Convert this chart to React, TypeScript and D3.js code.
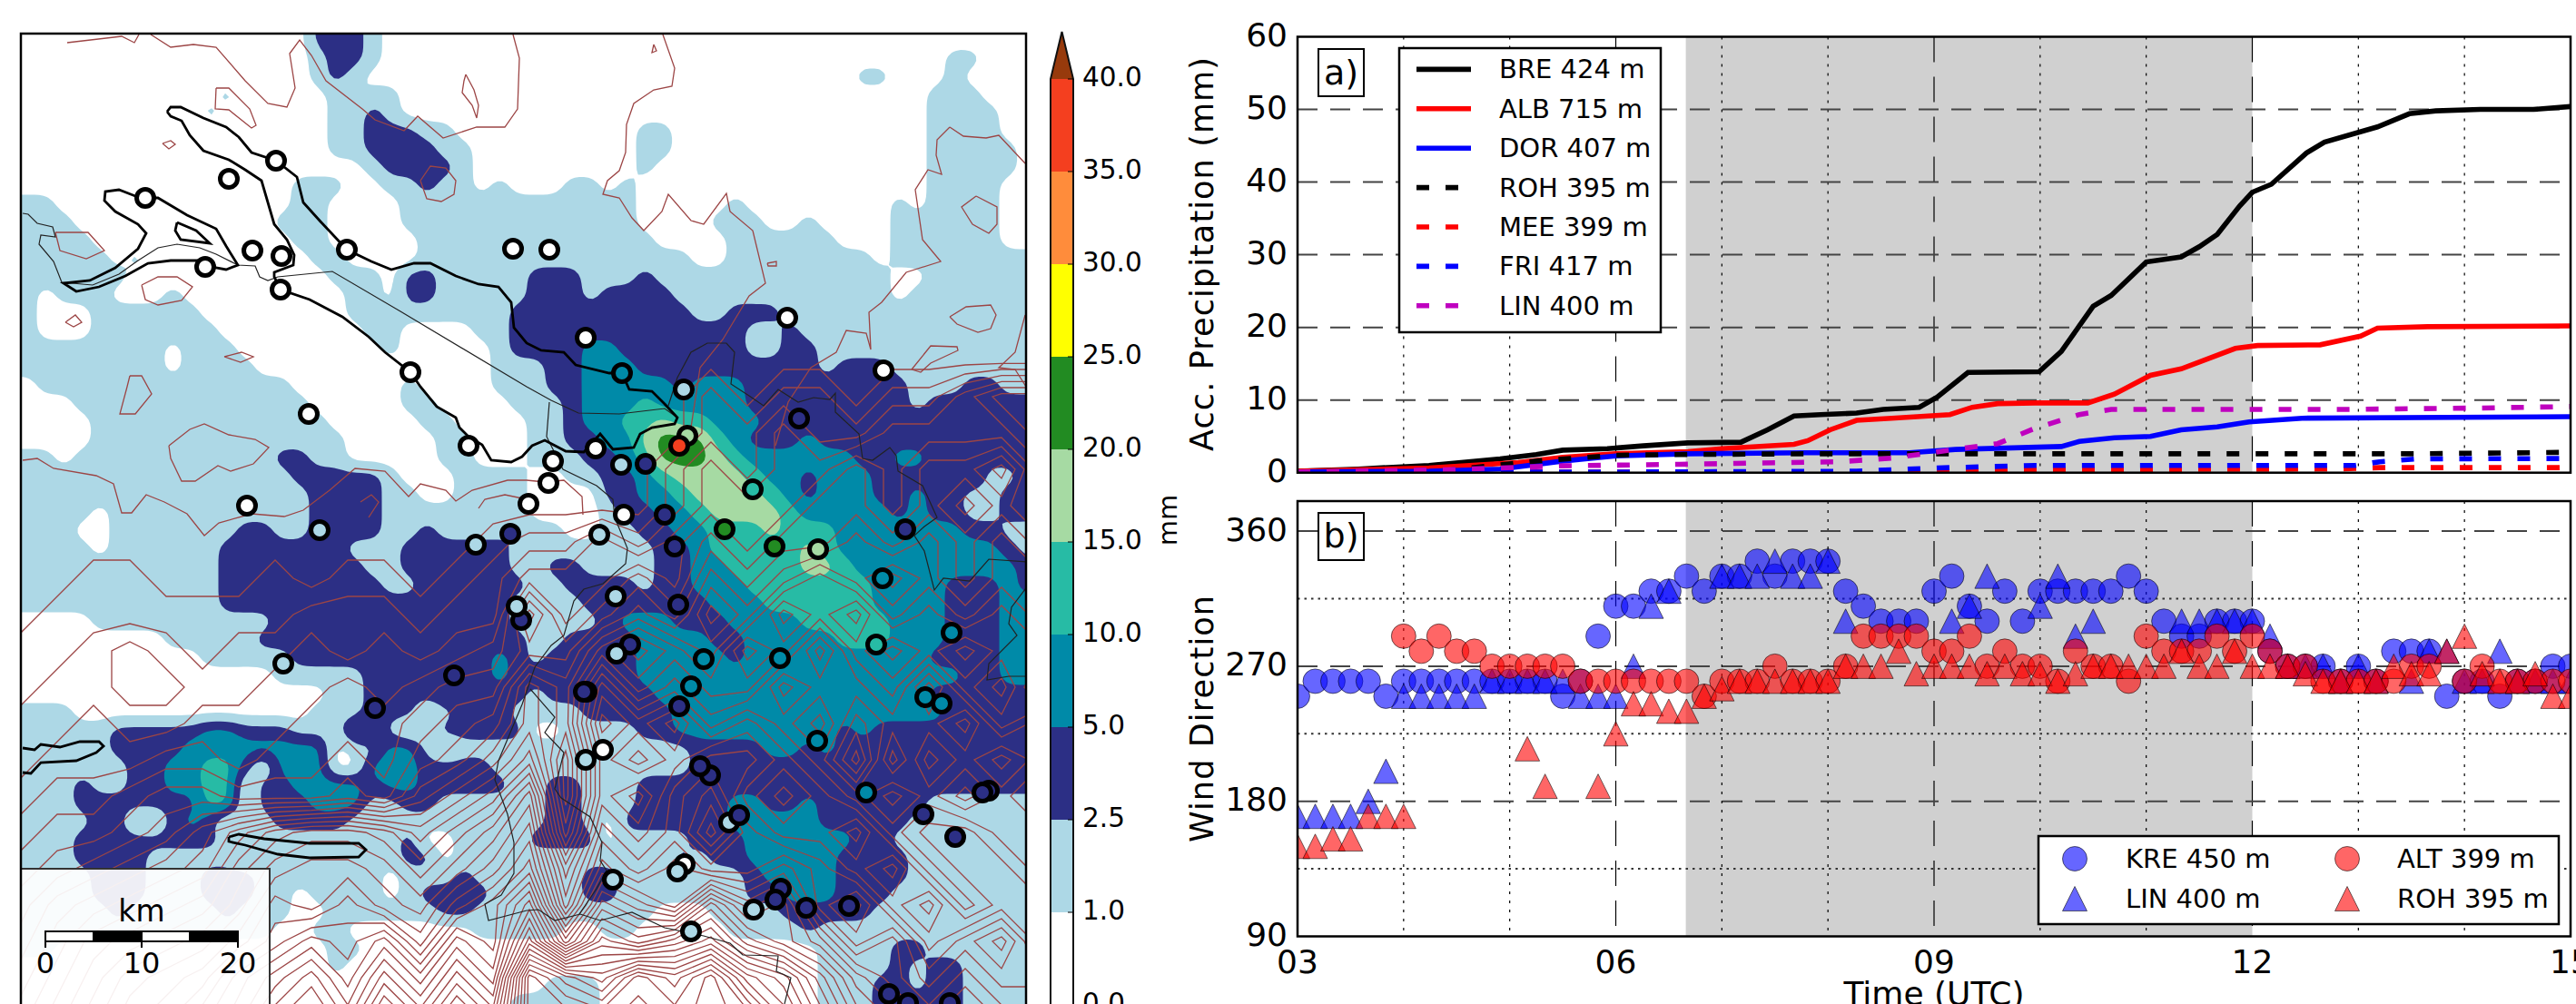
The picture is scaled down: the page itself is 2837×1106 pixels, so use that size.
import React from "react";
import * as d3 from "d3";

// ---------- colour classes (mm) ----------
const rainLevels = ["0.0", "1.0", "2.5", "5.0", "10.0", "15.0", "20.0", "25.0", "30.0", "35.0", "40.0"];
const rainColors = ["#ffffff", "#add8e6", "#2c2f85", "#008aa8", "#27bba5", "#a6daa3", "#228b22", "#ffff00", "#ff8c3b", "#f43f1f", "#973a0c"];

const rainWest = [
  "0000000000000000222100000000","0000000000000000122100000000","0000000000000000121000000000","0000000000010000010110000000",
  "0000000000100000011210000000","0000000000000000011222110000","0000000000000000011222211000","0000000000000000000122221000",
  "0000000000000001110011211010","1100000000000001100001111111","1110000000000011100001111111","1111000000000001100000111111",
  "1111101000000000110000111111","1111110000000000011102211111","1011100010000000001102211111","1000111111000000001111111112",
  "1000101111100000000110000112","1111111101110000000010000012","1111111101111000000000000011","0111111111111110000001000011",
  "0001112111111111000001100001","0000111111111111100000110000","0000111111111111110000011000","1101111111111122110000011000",
  "1111111111111112222210001111","1111111111111111222211001111","1111011111111111222211111111",
  "1110011111112211222211211112","1111011011122222221112222221","1111111111122222222112222221","1111111111122222222211222222",
  "1111111101122222222222222221","0000111111111122222222222221","0000000011121222222222222222","0000000000111112222222222232",
  "0000000000000011111232222232","0000000000000000011222232222","1110000000000000111222012221",
  "1111122222332221113310122222","1111122223333333301133101111","1111112233442033300333222211","1112112233440223333233222221",
  "1112222222440222333112211111","1111220023201122221011111111","1112222222211111111112001111","1112222111110111111112201111",
  "1111222111222111111101112111","1111222111222110111101222211","1111121111121110011111122111","1111111111111100110000000111",
  "1100000000000000011000000000","0000000000000000010000000000","0000000000000000000000000000","0000000000000000000000000001",
];
const rainEast = [
  "0000000000000000000000000000","0000000000000000000000011000","0000000000000000001100010000","0000000000000000000000111000",
  "0000000000000000000000111100","0000001100000000000000111100","0000001100000000000000111110","0000001000000000000000111110",
  "0011010000000000000000111100","1111110000010000000010111100","1111110000111001000011111100","1111111000011111100011111100",
  "1111111110011111111011111111","2221112111111111111100111111","2221222211111111111101111111","2222222221122211111111111111",
  "2222222222221121111111111111","2223322222221122111111111111","1223332222222222122211111111","1223333323332222222221112211",
  "1123334333332222222221222222","1123344544333222222222222222","1122335666432223222222222222","1112234666543333332233222222",
  "0011223455554332333222223112","0000223345555432333223221122","0000122334555543333323221122",
  "1100112233444544433333332211","1111111223444445433333333321","1221111223344445543333333332","1122221223334444444333322232",
  "1112222222333444444333322233","1111233322233334444433322233","1122223333223333344433322233","1222223333323333333333222233",
  "2222223333333333333333332233","1222222333333333333333222222","1112222233333333333333322222","0011112233333333323222222222",
  "1111111112222332322222222222","1111111112222222222222222222","1221112222222222222222222222","1221112222233223222222111111",
  "1221022222233333222221111111","2222011112223333332211111111","1111111121223333322221111111","1112211111112333322221111111",
  "1112211111112233322211111111","1111111000111122222111111111","1100110000011112111111111111","0000000000000000111122111111",
  "0000000000000000111121221111","0111000000000000111221221111","1111000000000000111222221111",
];

// Contour count (base-36 digit) of the terrain on a coarser grid, starting at grid row 10.
const terrainWest = [
  "00000000000000","00000000000000","00000000000000","00000000000000","00000000000001",
  "00110001011012","01111111222122","11232122323234","12233223343455","22322333444567",
  "23334434454679","344566555658ac","455679bdeedbdf","56789adfggfdfh","689abcehgigfik",
  "79bcdegikjlhmk","8acefgjlnkolpm","9bdfgiknpmrosp",
];
const terrainEast = [
  "000002022022466","000002242244446","000024244646684","000024446646864","224246466868686",
  "44464868a8a8688","84686a8cac8a8a8","66aca8caeacacaa","a8eacaaeccaeac8","a8gegcecaecceac",
  "c6egeggecgaecec","g6ecgiegececaca","i8gegkgeegceecc","kcigiggigegceec","oemkiokmgiegcee",
  "skqoqsomkgiegie","zwuywzusokigigg","zzyzyzyuqmkikii",
];
const terrainFirstRow = 10;

// North terrain contours, in map units.
const terrainLines = [
  [[51,10],[111,3],[125,10],[130,1]],
  [[143,1],[165,15],[190,12],[215,15],[247,52],[272,77],[293,81],[302,60],[296,22],[307,7],[320,24],[336,52],[376,83],[390,95],[422,107],[437,91],[465,115],[502,103],[533,103],[547,83],[549,27],[542,1]],
  [[215,60],[229,60],[252,83],[259,101],[254,104],[229,84],[214,83],[215,60]],
  [[156,121],[165,118],[170,122],[163,127],[156,121]],
  [[490,45],[499,62],[504,79],[502,93],[497,79],[486,65],[488,52],[490,45]],
  [[440,162],[451,146],[468,148],[479,162],[477,177],[463,185],[447,182],[440,162]],
  [[38,219],[74,219],[92,239],[72,248],[43,239],[38,219]],
  [[133,277],[151,268],[172,268],[189,279],[177,294],[151,299],[137,293],[133,277]],
  [[49,318],[60,310],[67,318],[58,323],[49,318]],
  [[224,356],[243,351],[256,356],[242,362],[224,356]],
  [[120,377],[133,377],[144,397],[126,419],[109,419],[117,389],[120,377]],
  [[163,454],[186,436],[202,430],[229,442],[258,447],[273,456],[256,474],[231,482],[217,476],[192,493],[177,493],[165,468],[163,454]],
  [[2,470],[18,468],[36,479],[83,487],[102,496],[111,528],[122,528],[138,508],[158,516],[183,529],[202,553],[218,539],[254,529],[290,532],[311,525],[340,503],[368,479],[401,482],[427,510],[440,496],[468,503],[479,515],[497,503],[536,492],[557,492],[577,494],[598,492],[618,510],[619,530]],
  [[374,516],[386,508],[394,516],[383,533]],
  [[504,523],[511,513],[533,508],[557,513]],
  [[707,1],[720,38],[717,58],[697,62],[675,77],[667,100],[666,131],[659,151],[646,162],[641,177],[659,181],[673,203],[686,217],[706,196],[713,177],[738,206],[752,210],[777,176],[781,196],[806,217],[820,275],[802,289],[773,337],[748,368],[738,434]],
  [[1023,103],[1009,117],[1008,134],[1014,155],[999,150],[985,172],[993,227],[1013,251],[975,263],[948,296],[934,307],[936,348],[931,330],[909,327],[898,351],[870,368],[845,406],[831,454]],
  [[1023,103],[1038,113],[1063,115],[1077,112],[1106,143]],
  [[1052,179],[1075,191],[1075,210],[1066,220],[1048,210],[1036,191],[1052,179]],
  [[1023,312],[1041,301],[1068,299],[1074,310],[1068,325],[1054,329],[1031,320],[1023,312]],
  [[981,370],[1002,344],[1031,345],[1032,349],[1002,363],[991,373],[981,370]],
  [[1106,310],[1095,351],[1077,368],[1095,370],[1107,389]],
  [[697,12],[700,19],[695,21],[697,12]],
  [[822,253],[832,251],[832,256],[823,256],[822,253]],
];

// Lakes (heavy black outline).
const lakeLines = [
  [[161,86],[165,81],[176,81],[201,93],[226,103],[240,114],[254,131],[281,140],[304,158],[311,186],[329,206],[359,238],[386,251],[408,260],[433,253],[451,253],[479,267],[504,276],[526,279],[540,296],[543,324],[557,341],[573,349],[598,351],[611,365],[648,374],[662,374],[670,392],[695,394],[709,408],[723,423],[720,430],[695,434],[682,441],[675,456],[652,458],[638,441],[620,461],[600,460],[577,448],[563,454],[552,466],[540,472],[518,470],[508,453],[493,444],[483,434],[479,423],[458,411],[440,389],[429,373],[401,351],[383,334],[354,312],[318,293],[286,282],[279,268],[279,263],[300,255],[301,244],[293,227],[279,210],[272,186],[265,162],[247,150],[229,139],[201,129],[186,112],[177,96],[165,91],[161,86]],
  [[137,181],[151,181],[183,200],[215,215],[226,234],[239,255],[226,260],[215,258],[203,250],[165,250],[140,253],[115,267],[86,279],[61,284],[47,275],[76,272],[104,258],[129,237],[138,220],[129,210],[104,196],[92,184],[93,174],[108,172],[126,179],[137,181]],
  [[172,208],[193,217],[208,231],[176,227],[170,217],[172,208]],
  [[2,787],[15,789],[22,783],[43,786],[65,780],[86,780],[91,785],[83,792],[61,801],[22,803],[11,815],[2,814]],
  [[229,885],[240,882],[268,887],[318,892],[372,892],[380,899],[372,907],[318,908],[283,904],[247,894],[229,890],[229,885]],
];

// Rivers and borders (thin line).
const borderLines = [
  [[2,198],[8,199],[18,209],[35,213],[38,224],[22,222],[20,232],[36,251],[45,274],[79,277],[108,265],[129,250],[151,236],[172,232],[197,236],[215,243],[239,255],[258,256],[263,268],[272,272],[283,268],[343,262],[418,306],[557,389],[584,404],[614,418],[659,419],[709,413],[723,423]],
  [[713,410],[723,379],[738,351],[756,341],[777,341],[786,351],[782,386],[802,399],[818,410],[834,392],[856,406],[873,401],[891,403],[897,396],[897,417],[923,441],[927,468],[938,470],[957,456],[964,465],[966,482],[993,498],[1009,533],[995,543],[984,553],[995,570],[1006,613],[1016,600],[1045,603],[1066,579],[1109,582]],
  [[1109,608],[1091,632],[1088,650],[1097,663],[1066,694],[1064,712],[1088,708],[1109,708]],
  [[582,406],[579,444],[597,480],[634,498],[652,513],[654,533],[668,567],[666,584],[641,606],[620,612],[609,625],[598,663],[584,674],[566,698],[552,739],[526,801],[522,822],[536,860],[543,891],[543,925],[529,949],[511,959],[515,977],[557,966],[570,965],[588,977],[616,970],[638,977],[673,968],[709,985],[752,994],[781,1002],[795,1015],[834,1016],[832,1033],[848,1040],[841,1069]],
  [[561,722],[588,753],[577,770],[598,792],[588,832],[595,842],[627,863],[640,891],[638,911],[645,922],[634,942],[615,970]],
];

// Stations: position in map units and the colour class of their total.
const stations = [
  [281,140,0],[229,160,0],[137,181,0],[255,239,0],[287,245,0],[203,257,0],[286,282,0],[359,238,0],[542,237,0],[429,373,0],[317,419,0],[493,454,0],[249,520,0],
  [582,238,0],[622,335,0],[844,313,0],[950,371,0],[662,374,3],[730,392,1],[857,424,2],[734,443,5],[725,454,9],[633,457,0],[586,471,0],[581,495,0],[559,518,0],[661,475,1],[688,474,2],[806,502,4],[664,530,0],[709,530,2],
  [637,552,1],[775,546,6],[830,565,6],[878,568,5],[720,565,2],[974,546,2],[949,600,3],[655,620,1],[724,629,2],[1025,660,3],[942,673,4],[671,673,2],[656,683,1],[752,689,3],[836,688,3],[738,719,3],[725,741,2],[623,725,2],[620,725,2],[996,731,3],[1014,738,3],[877,779,3],[641,789,0],[622,800,1],[759,817,2],[748,807,2],[931,836,3],[1066,834,2],[1059,836,2],[994,860,2],[780,869,1],[791,861,2],[1029,885,2],[731,915,0],[723,923,1],[652,932,1],[837,942,2],[831,954,2],[865,963,2],[912,961,2],[807,965,1],[738,989,1],[956,1058,2],[977,1068,2],[1023,1068,2],
  [329,547,1],[501,563,1],[539,551,2],[551,646,2],[546,631,1],[289,694,1],[477,707,2],[390,743,2],
];

// ---------- panel a ----------
const precipSeries = [
  { name: "BRE 424 m", color: "#000000", dashed: false, t: [3,3.57,4.24,4.91,5.25,5.5,5.92,6.26,6.68,7.18,7.43,7.68,7.93,8.27,8.52,8.86,9.03,9.32,9.99,10.2,10.5,10.67,11,11.33,11.5,11.67,11.88,12,12.18,12.51,12.68,13.18,13.48,13.73,14.15,14.65,15], v: [0.2,0.5,1,1.9,2.5,3.1,3.3,3.7,4.1,4.2,5.9,7.8,8,8.2,8.7,9,10.4,13.8,13.9,16.7,22.9,24.4,29,29.7,31.1,32.8,36.7,38.6,39.7,44,45.5,47.6,49.4,49.8,50,50,50.4] },
  { name: "ALB 715 m", color: "#ff0000", dashed: false, t: [3,4.24,5.08,5.5,6,6.68,7,7.68,7.81,8.02,8.27,8.6,9.15,9.36,9.6,9.95,10.45,10.7,11.04,11.33,11.84,12.05,12.64,13.02,13.18,13.65,15], v: [0.2,0.65,1.4,2.1,2.6,2.9,3.3,3.9,4.4,5.9,7.2,7.5,8,9,9.5,9.6,9.6,10.8,13.4,14.3,17.1,17.5,17.6,18.8,19.9,20.1,20.2] },
  { name: "DOR 407 m", color: "#0000ff", dashed: false, t: [3,4.24,4.91,5.5,6,6.68,7.77,8.77,9.2,10.2,10.37,10.7,11.04,11.33,11.67,11.97,12.47,15], v: [0.1,0.2,0.5,1.6,2.3,2.6,2.75,2.75,3.2,3.6,4.3,4.8,5,5.9,6.3,7,7.5,7.7] },
  { name: "ROH 395 m", color: "#000000", dashed: true, t: [3,4.4,5.25,6,6.6,7.77,13.5,15], v: [0.1,0.3,1.6,2.4,2.5,2.6,2.6,2.8] },
  { name: "MEE 399 m", color: "#ff0000", dashed: true, t: [3,8.86,9.95,12.8,13.2,15], v: [0.05,0.1,0.4,0.5,0.7,0.7] },
  { name: "FRI 417 m", color: "#0000ff", dashed: true, t: [3,6.4,8.27,9.03,9.95,12.97,13.2,13.55,15], v: [0.05,0.1,0.2,0.65,1,1,1.5,1.9,1.95] },
  { name: "LIN 400 m", color: "#bf00bf", dashed: true, t: [3,4.4,5.5,6.6,8.1,8.6,9.6,9.95,10.37,10.67,12.8,14.15,15], v: [0.1,0.4,0.95,1.15,1.5,2,4,6.1,8,8.7,8.7,8.9,9.1] },
];
const precipTicks = [0, 10, 20, 30, 40, 50, 60];
const timeTicks = [3, 6, 9, 12, 15];
const timeLabels = ["03", "06", "09", "12", "15"];
const shadedHours = [6.66, 12];

// ---------- panel b (10-minute values from 03 UTC) ----------
const _ = null;
const kre = [250,260,260,260,260,250,260,260,260,260,260,260,260,260,260,250,260,290,310,310,320,320,330,320,330,330,340,330,340,340,340,320,310,300,300,300,320,330,310,300,320,300,320,320,320,320,320,330,320,300,290,290,300,300,300,280,270,270,270,260,270,260,280,280,280,250,260,260,250,260,260,270,270];
const lin = [170,170,170,170,180,200,250,250,250,250,250,260,260,260,260,260,250,250,250,270,310,320,_,_,330,330,330,340,330,330,340,300,_,_,_,_,_,300,310,330,_,_,310,330,290,300,_,_,_,_,300,300,300,300,300,290,270,270,270,260,270,260,_,260,280,280,260,260,280,260,260,260,260];
const alt = [_,_,_,_,_,_,290,280,290,280,280,270,270,270,270,270,260,260,260,260,260,260,260,250,260,260,260,270,260,260,260,270,290,290,290,290,280,280,290,270,280,270,270,260,280,270,270,260,290,280,280,280,290,280,290,280,270,270,260,260,260,260,260,270,270,_,260,270,260,260,260,260,260];
const roh = [150,150,155,155,170,170,170,_,_,_,_,_,_,215,190,_,_,190,225,245,245,240,240,250,255,260,260,260,260,260,260,270,270,270,280,265,270,270,270,265,270,265,265,260,265,270,270,270,270,270,280,270,270,280,270,270,270,265,260,260,260,260,270,265,265,280,290,265,260,260,265,250,250];
const windSeries = [
  { name: "KRE 450 m", values: kre, color: "#0000ff", shape: "circle" },
  { name: "LIN 400 m", values: lin, color: "#0000ff", shape: "triangle" },
  { name: "ALT 399 m", values: alt, color: "#ff0000", shape: "circle" },
  { name: "ROH 395 m", values: roh, color: "#ff0000", shape: "triangle" },
];
const windMajor = [90, 180, 270, 360];
const windMinor = [135, 225, 315];

const FONT = "DejaVu Sans";
const W = 2837, H = 1106;
const TERRAIN = "#9c4545";

// ---------- scales ----------
const mapX = d3.scaleLinear().domain([0, 1107]).range([23, 1130]);
const mapY = d3.scaleLinear().domain([0, 1107]).range([37, 1144]);
const kmScale = d3.scaleLinear().domain([0, 20]).range([50, 262]);
const barY = d3.scaleLinear().domain([0, 10]).range([1107, 87]);
const timeX = d3.scaleLinear().domain([3, 15]).range([1429, 2831]);
const precipY = d3.scaleLinear().domain([0, 60]).range([520.7, 40.5]);
const windY = d3.scaleLinear().domain([90, 380]).range([1031.5, 552]);

const rainCols = 56, rainRowsN = rainWest.length;
const rainGrid: number[] = [];
rainWest.forEach((row, j) => {
  const s = (row + rainEast[j]).padEnd(rainCols, "0").slice(0, rainCols);
  for (const c of s) rainGrid.push(+c);
});
const terrCols = 29, terrRowsN = terrainFirstRow + terrainWest.length;
const terrGrid: number[] = new Array(terrCols * terrainFirstRow).fill(0);
terrainWest.forEach((row, j) => {
  const s = (row + terrainEast[j]).padEnd(terrCols, "0");
  for (const c of s) terrGrid.push(parseInt(c, 36));
});

// Rain classes are resampled and softened, so that band edges are not stair-stepped.
const FINE = 4;
const fineW = rainCols * FINE, fineH = rainRowsN * FINE;
const fineRain = new Float64Array(fineW * fineH);
for (let y = 0; y < fineH; y++) {
  const gy = Math.max(0, Math.min(rainRowsN - 1.001, (y + 0.5) / FINE - 0.5));
  const y0 = Math.floor(gy), fy = gy - y0;
  for (let x = 0; x < fineW; x++) {
    const gx = Math.max(0, Math.min(rainCols - 1.001, (x + 0.5) / FINE - 0.5));
    const x0 = Math.floor(gx), fx = gx - x0;
    const a = rainGrid[y0 * rainCols + x0], b = rainGrid[y0 * rainCols + x0 + 1];
    const c = rainGrid[(y0 + 1) * rainCols + x0], d = rainGrid[(y0 + 1) * rainCols + x0 + 1];
    fineRain[y * fineW + x] = (a * (1 - fx) + b * fx) * (1 - fy) + (c * (1 - fx) + d * fx) * fy;
  }
}
d3.blur2({ data: fineRain, width: fineW }, 1);

function gridPath(cell: number, cols: number, rows: number) {
  const gx = d3.scaleLinear().domain([0, cols]).range([mapX(-cell / 2), mapX(-cell / 2 + cell * cols)]);
  const gy = d3.scaleLinear().domain([0, rows]).range([mapY(-cell / 2), mapY(-cell / 2 + cell * rows)]);
  return d3.geoPath(d3.geoTransform({ point(x: number, y: number) { (this as any).stream.point(gx(x), gy(y)); } }));
}
const rainPath = gridPath(20 / FINE, fineW, fineH);
const terrPath = gridPath(40, terrCols, terrRowsN);
const rainBands = d3.contours().size([fineW, fineH]).thresholds([0.5, 1.5, 2.5, 3.5, 4.5, 5.5])(fineRain as any);
const terrBands = d3.contours().size([terrCols, terrRowsN]).thresholds(d3.range(0.5, 36, 1))(terrGrid);
const mapLine = d3.line<number[]>().x((d) => mapX(d[0])).y((d) => mapY(d[1]));

function tri(x: number, y: number, r = 13.5) {
  return `M${x},${y - r}L${x + r},${y + r}L${x - r},${y + r}Z`;
}

function Marker({ x, y, shape, color }: any) {
  const st = { fill: color, fillOpacity: 0.6, stroke: "#000", strokeOpacity: 0.55, strokeWidth: 1 };
  return shape === "circle" ? <circle cx={x} cy={y} r={13.5} {...st} /> : <path d={tri(x, y)} {...st} />;
}

function VGrid({ top, bottom }: { top: number; bottom: number }) {
  return (
    <g>
      {d3.range(3, 16).map((h) => (
        <line key={h} x1={timeX(h)} x2={timeX(h)} y1={top} y2={bottom} stroke="#000" strokeWidth={1.2}
          strokeDasharray={h % 3 === 0 ? "28,16" : "3,7"} />
      ))}
    </g>
  );
}

export default function App() {
  const [shadeA, shadeB] = shadedHours.map((h) => timeX(h));
  const pLine = (s: any) =>
    d3.line<number>().x((t) => timeX(t)).y((_t, i) => precipY(s.v[i])).curve(d3.curveLinear)(s.t) as string;
  const legendRows = d3.scaleLinear().domain([0, 6]).range([76.4, 336.8]);

  return (
    <svg width={W} height={H} viewBox={`0 0 ${W} ${H}`}
      style={{ position: "absolute", left: 0, top: 0, display: "block", background: "#fff", fontFamily: FONT }}>
      <defs>
        <clipPath id="mapClip"><rect x={mapX(0)} y={mapY(0)} width={mapX(1107) - mapX(0)} height={H} /></clipPath>
        <clipPath id="aClip"><rect x={timeX(3)} y={precipY(60)} width={timeX(15) - timeX(3)} height={precipY(0) - precipY(60)} /></clipPath>
        <clipPath id="bClip"><rect x={timeX(3)} y={windY(380)} width={timeX(15) - timeX(3)} height={windY(90) - windY(380)} /></clipPath>
      </defs>

      {/* ---------- map ---------- */}
      <g clipPath="url(#mapClip)">
        {rainBands.map((c: any, i: number) => (
          <path key={i} d={rainPath(c) as string} fill={rainColors[i + 1]} />
        ))}
        {terrBands.map((c: any, i: number) => (
          <path key={i} d={terrPath(c) as string} fill="none" stroke={TERRAIN} strokeWidth={1.3} />
        ))}
        {terrainLines.map((l, i) => (
          <path key={i} d={mapLine(l) as string} fill="none" stroke={TERRAIN} strokeWidth={1.3} />
        ))}
        {borderLines.map((l, i) => (
          <path key={i} d={mapLine(l) as string} fill="none" stroke="#222" strokeWidth={1.2} />
        ))}
        {lakeLines.map((l, i) => (
          <path key={i} d={mapLine(l) as string} fill="none" stroke="#000" strokeWidth={2.8} />
        ))}
        {stations.map((s, i) => (
          <circle key={i} cx={mapX(s[0])} cy={mapY(s[1])} r={9.5} fill={rainColors[s[2]]} stroke="#000" strokeWidth={5} />
        ))}
        {/* scale box */}
        <rect x={mapX(0)} y={957} width={274} height={H - 957 + 20} fill="#fff" fillOpacity={0.92} stroke="#333" strokeWidth={2} />
        <text x={kmScale(10)} y={1015} textAnchor="middle" fontSize={33}>km</text>
        {[0, 5, 10, 15].map((k, i) => (
          <rect key={k} x={kmScale(k)} y={1026} width={kmScale(k + 5) - kmScale(k)} height={11}
            fill={i % 2 ? "#000" : "#fff"} stroke="#000" strokeWidth={2} />
        ))}
        {[0, 10, 20].map((k) => (
          <g key={k}>
            <line x1={kmScale(k)} x2={kmScale(k)} y1={1026} y2={1044} stroke="#000" strokeWidth={2} />
            <text x={kmScale(k)} y={1072} textAnchor="middle" fontSize={32}>{k}</text>
          </g>
        ))}
      </g>
      <rect x={mapX(0)} y={mapY(0)} width={mapX(1107) - mapX(0)} height={H} fill="none" stroke="#000" strokeWidth={2.5} />

      {/* ---------- colour bar ---------- */}
      {rainLevels.slice(0, -1).map((lab, i) => (
        <rect key={lab} x={1157} y={barY(i + 1)} width={25} height={barY(i) - barY(i + 1)} fill={rainColors[i]} />
      ))}
      <path d={`M1157,${barY(10)}L1169.5,35L1182,${barY(10)}Z`} fill={rainColors[10]} />
      <path d={`M1157,${H + 5}V${barY(10)}L1169.5,35L1182,${barY(10)}V${H + 5}`} fill="none" stroke="#111" strokeWidth={2} />
      {rainLevels.map((lab, i) => (
        <g key={lab}>
          <line x1={1176} x2={1182} y1={barY(i)} y2={barY(i)} stroke="#000" strokeWidth={1} />
          <text x={1192} y={barY(i) - 2} dominantBaseline="central" fontSize={29.5}>{lab}</text>
        </g>
      ))}
      <text transform="translate(1286,573) rotate(-90)" textAnchor="middle" dominantBaseline="central" fontSize={29}>mm</text>

      {/* ---------- panel a ---------- */}
      <rect x={shadeA} y={precipY(60)} width={shadeB - shadeA} height={precipY(0) - precipY(60)} fill="#d0d0d0" />
      <VGrid top={precipY(60)} bottom={precipY(0)} />
      {precipTicks.slice(1, -1).map((v) => (
        <line key={v} x1={timeX(3)} x2={timeX(15)} y1={precipY(v)} y2={precipY(v)} stroke="#444" strokeWidth={2} strokeDasharray="22,14" />
      ))}
      <g clipPath="url(#aClip)">
        {precipSeries.map((s) => (
          <path key={s.name} d={pLine(s)} fill="none" stroke={s.color} strokeWidth={5.6} strokeDasharray={s.dashed ? "14,18" : undefined} />
        ))}
      </g>
      <rect x={timeX(3)} y={precipY(60)} width={timeX(15) - timeX(3)} height={precipY(0) - precipY(60)} fill="none" stroke="#000" strokeWidth={2.5} />
      {precipTicks.map((v) => (
        <text key={v} x={1418} y={precipY(v) - 2} textAnchor="end" dominantBaseline="central" fontSize={36}>{v}</text>
      ))}
      <text transform="translate(1324,280) rotate(-90)" textAnchor="middle" dominantBaseline="central" fontSize={35} textLength={434}>Acc. Precipitation (mm)</text>
      <rect x={1452} y={54} width={50} height={52} fill="#fff" stroke="#000" strokeWidth={2} />
      <text x={1477} y={80} textAnchor="middle" dominantBaseline="central" fontSize={38}>a)</text>
      <rect x={1541} y={53} width={288} height={313} fill="#fff" stroke="#000" strokeWidth={2.5} />
      {precipSeries.map((s, i) => (
        <g key={s.name}>
          <line x1={1560} x2={1620} y1={legendRows(i)} y2={legendRows(i)} stroke={s.color} strokeWidth={5.6} strokeDasharray={s.dashed ? "14,18" : undefined} />
          <text x={1651} y={legendRows(i)} dominantBaseline="central" fontSize={29}>{s.name}</text>
        </g>
      ))}

      {/* ---------- panel b ---------- */}
      <rect x={shadeA} y={windY(380)} width={shadeB - shadeA} height={windY(90) - windY(380)} fill="#d0d0d0" />
      <VGrid top={windY(380)} bottom={windY(90)} />
      {windMajor.slice(1).map((v) => (
        <line key={v} x1={timeX(3)} x2={timeX(15)} y1={windY(v)} y2={windY(v)} stroke="#444" strokeWidth={2} strokeDasharray="22,14" />
      ))}
      {windMinor.map((v) => (
        <line key={v} x1={timeX(3)} x2={timeX(15)} y1={windY(v)} y2={windY(v)} stroke="#333" strokeWidth={2} strokeDasharray="2.5,5" />
      ))}
      <g clipPath="url(#bClip)">
        {windSeries.map((s) => (
          <g key={s.name}>
            {s.values.map((v, i) =>
              v === null ? null : <Marker key={i} x={timeX(3 + i / 6)} y={windY(v)} shape={s.shape} color={s.color} />
            )}
          </g>
        ))}
      </g>
      <rect x={timeX(3)} y={windY(380)} width={timeX(15) - timeX(3)} height={windY(90) - windY(380)} fill="none" stroke="#000" strokeWidth={2.5} />
      {windMajor.map((v) => (
        <text key={v} x={1418} y={windY(v) - 2} textAnchor="end" dominantBaseline="central" fontSize={36}>{v}</text>
      ))}
      <text transform="translate(1324,792) rotate(-90)" textAnchor="middle" dominantBaseline="central" fontSize={35} textLength={272}>Wind Direction</text>
      <rect x={1452} y={565} width={50} height={52} fill="#fff" stroke="#000" strokeWidth={2} />
      <text x={1477} y={590} textAnchor="middle" dominantBaseline="central" fontSize={38}>b)</text>
      {timeTicks.map((h, i) => (
        <text key={h} x={timeX(h)} y={1072} textAnchor="middle" fontSize={36}>{timeLabels[i]}</text>
      ))}
      <text x={timeX(9)} y={1107} textAnchor="middle" fontSize={36}>Time (UTC)</text>
      <rect x={2245} y={921} width={573} height={97} fill="#fff" stroke="#000" strokeWidth={2.5} />
      {windSeries.map((s, i) => {
        const col = i < 2 ? 0 : 1;
        const y = i % 2 === 0 ? 946 : 990;
        return (
          <g key={s.name + i}>
            <Marker x={col ? 2585 : 2285} y={y} shape={s.shape} color={s.color} />
            <text x={col ? 2640 : 2341} y={y} dominantBaseline="central" fontSize={29}>{s.name}</text>
          </g>
        );
      })}
    </svg>
  );
}
